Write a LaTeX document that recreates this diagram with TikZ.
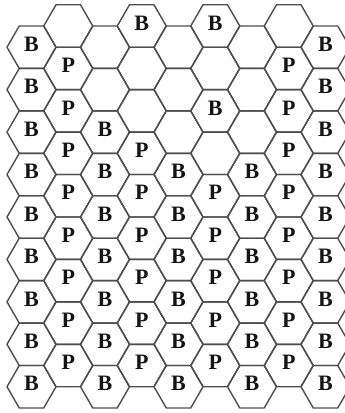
\documentclass[tikz,border=0pt]{standalone}
\usepackage{fontspec}
\setmainfont{Liberation Serif}
\definecolor{hxLine}{HTML}{4D4D4D}
\definecolor{hxInk}{HTML}{141414}

\begin{document}
\begin{tikzpicture}[
  x=1pt, y=-1pt,
  hx cell/.style={draw=hxLine,line width=1.4pt,line join=round},
  hx label/.style={font=\fontsize{22}{24}\selectfont\bfseries,text=hxInk,inner sep=0pt}
]
% Cell geometry: side, column pitch, row pitch (flat-topped cells).
\def\hxS{24.5}
\def\hxDx{36.75}
\def\hxDy{42.44}
\useasboundingbox (0,0) rectangle (345,413);
\clip (0,0) rectangle (345,413);

% 9 x 9 grid; odd columns sit half a row higher.
\foreach \c in {0,...,8}
  \foreach \r in {0,...,8} {
    \pgfmathsetmacro{\cx}{31.5+\hxDx*\c}
    \pgfmathsetmacro{\cy}{26.0+\hxDy*\r+21.22*(1-mod(\c,2))}
    \coordinate (c-\c-\r) at (\cx,\cy);
    \draw[hx cell] (c-\c-\r) ++(180:\hxS) -- ++(60:\hxS) -- ++(0:\hxS)
      -- ++(-60:\hxS) -- ++(-120:\hxS) -- ++(180:\hxS) -- cycle;
  }

% Cell letters, column by column.
\foreach \c/\t/\rows in {0/B/{0,...,8}, 1/P/{1,...,8}, 2/B/{2,...,8},
    3/B/{0}, 3/P/{3,...,8}, 4/B/{3,...,8}, 5/B/{0,2}, 5/P/{4,...,8},
    6/B/{3,...,8}, 7/P/{1,...,8}, 8/B/{0,...,8}}
  \foreach \r in \rows
    \node[hx label] (l-\c-\r) at ([yshift=3pt]c-\c-\r) {\t};
\end{tikzpicture}
\end{document}
